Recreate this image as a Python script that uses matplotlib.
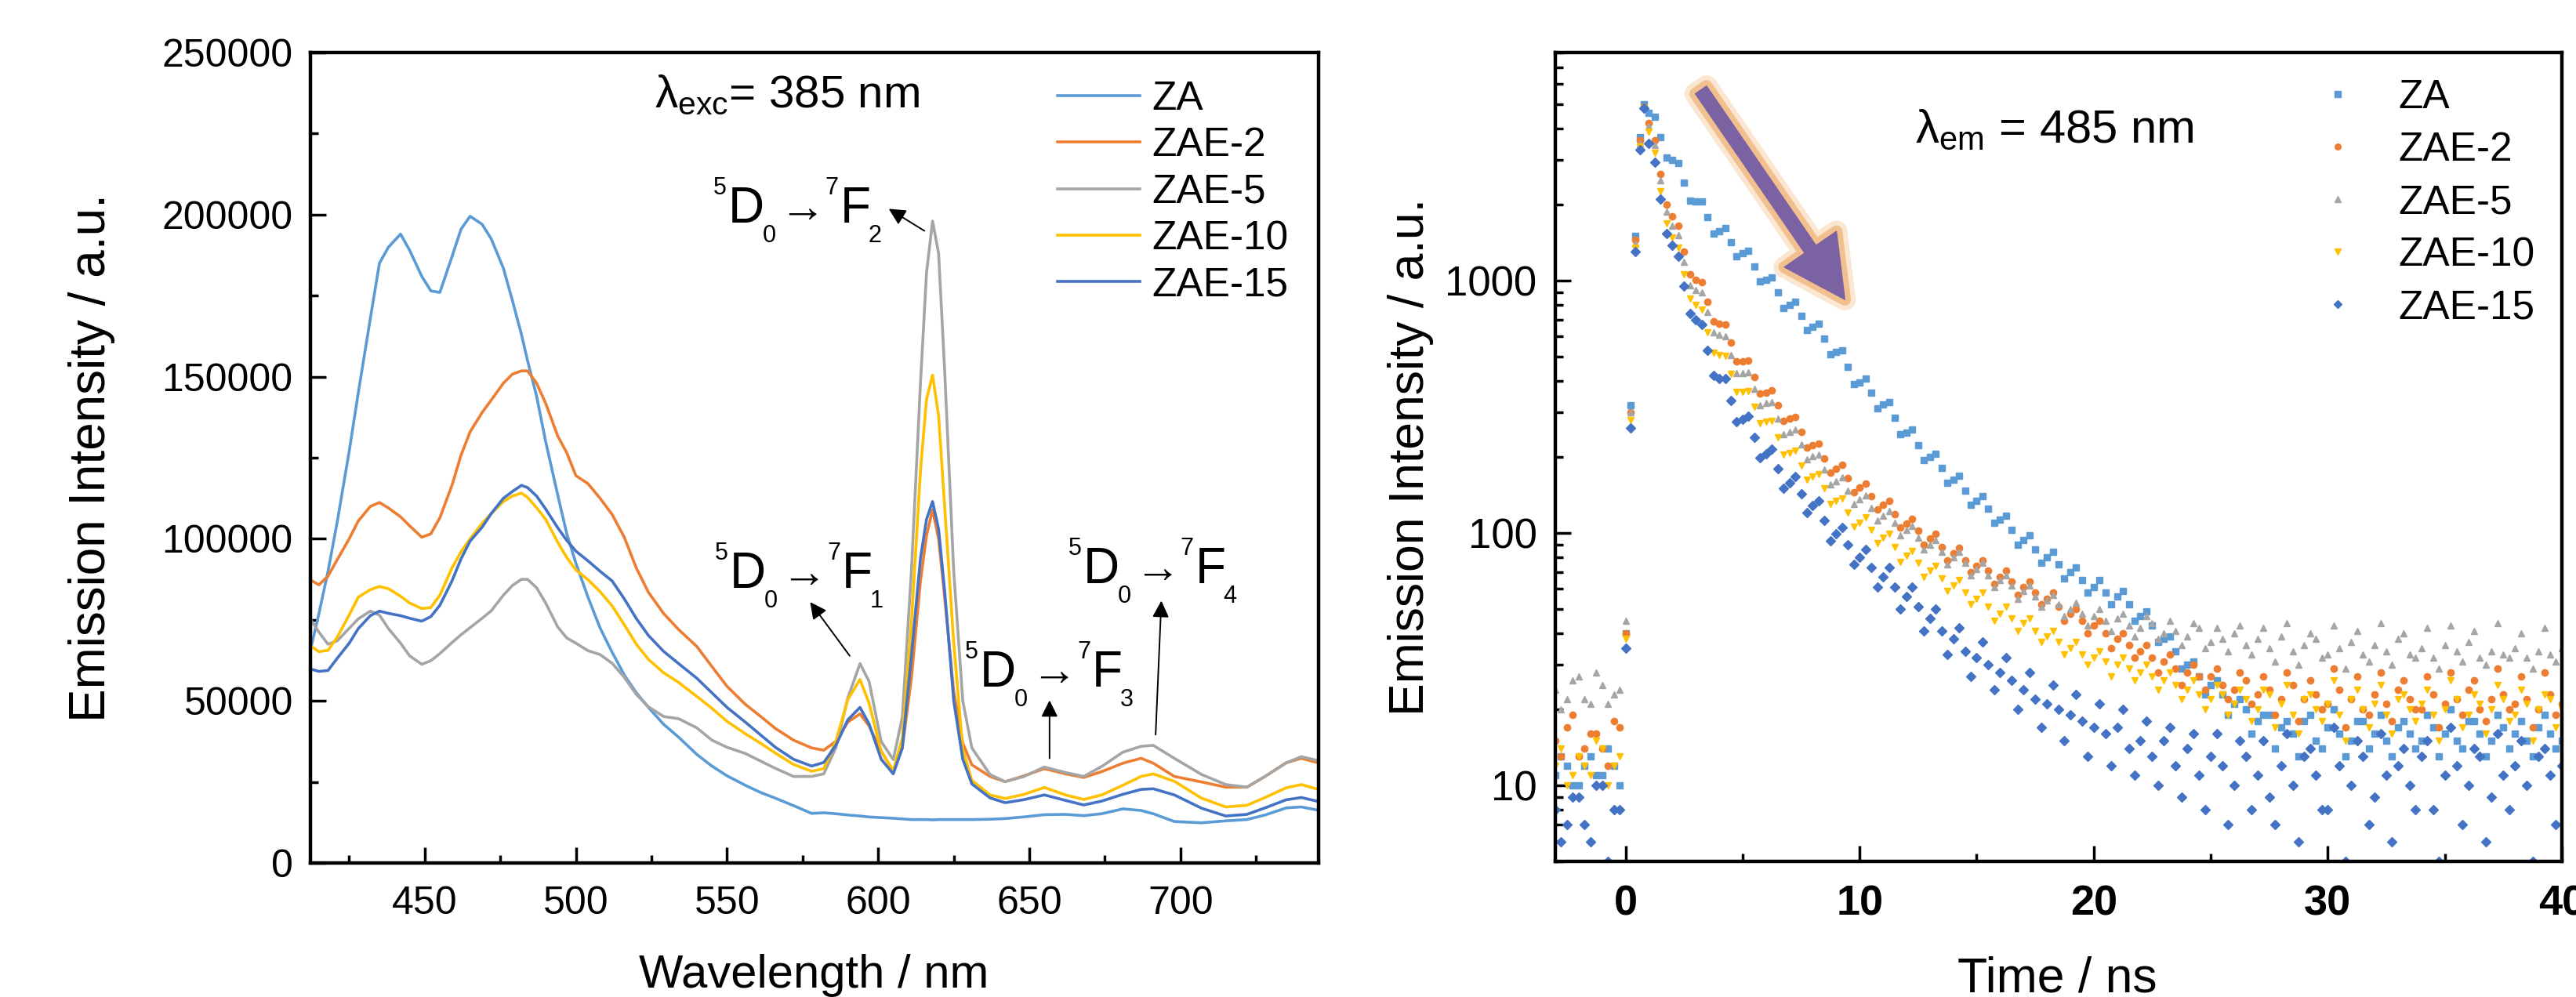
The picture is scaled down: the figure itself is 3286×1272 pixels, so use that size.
import matplotlib
matplotlib.use('Agg')
import matplotlib.pyplot as plt
import numpy as np
from matplotlib.ticker import MultipleLocator, NullFormatter
from matplotlib.patches import FancyArrowPatch
import matplotlib.patheffects as pe

plt.rcParams['font.family'] = ['Liberation Sans', 'DejaVu Sans']
plt.rcParams['mathtext.fontset'] = 'custom'
plt.rcParams['mathtext.rm'] = 'Liberation Sans'
plt.rcParams['mathtext.it'] = 'Liberation Sans:italic'
plt.rcParams['mathtext.bf'] = 'Liberation Sans:bold'

# ---------------- data: emission spectra (left) ----------------
names = ['ZA', 'ZAE-2', 'ZAE-5', 'ZAE-10', 'ZAE-15']
colors = ['#5B9BD5', '#ED7D31', '#A5A5A5', '#FFC000', '#4472C4']

wavelength = [412, 415, 418, 421, 425, 428, 432, 435, 438, 442, 445, 449, 452, 455, 459,
              462, 465, 469, 472, 476, 479, 482, 484, 487, 490, 494, 497, 500, 504, 508,
              512, 516, 520, 524, 529, 534, 540, 545, 550, 556, 561, 566, 572, 578, 582,
              586, 590, 594, 597, 601, 605, 608, 611, 614, 616, 618, 620, 622, 625, 628,
              631, 637, 642, 648, 655, 662, 668, 674, 681, 687, 691, 698, 707, 715, 722,
              728, 735, 740, 746]

em_za = [65000, 77000, 90000, 105000, 127000, 145000, 168000, 185000, 190000, 194000,
         189000, 181000, 176500, 176000, 187000, 195500, 199500, 197000, 192500, 183500,
         173500, 163000, 155000, 144000, 130000, 113500, 101500, 92500, 82000, 72500,
         65000, 58000, 52500, 48000, 42800, 38800, 33500, 29900, 26900, 24000,
         21800, 20000, 17700, 15300, 15500, 15200, 14800, 14500, 14200, 14000,
         13800, 13600, 13400, 13400, 13400, 13300, 13400, 13400, 13400, 13400,
         13400, 13500, 13700, 14200, 14900, 15000, 14600, 15200, 16700, 16200,
         15200, 12800, 12400, 13000, 13400, 14800, 17000, 17300, 16200]
em_zae2 = [87400, 85800, 88500, 93500, 100000, 105500, 110000, 111200, 109500, 106800,
           104000, 100500, 101500, 106500, 116500, 125800, 133000, 139000, 142800, 148000,
           150800, 151800, 151800, 148000, 141800, 131700, 126500, 119500, 117000, 112500,
           107500, 100500, 91000, 83500, 77000, 72000, 66800, 60600, 54500, 49000,
           45300, 41500, 37900, 35500, 34800, 37500, 43500, 46000, 42300, 34500,
           28300, 35500, 57000, 87000, 101000, 109000, 100000, 82000, 53000, 37000,
           30300, 26700, 25100, 26800, 29100, 27500, 26400, 28200, 30800, 32300,
           30800, 26700, 25000, 23400, 23400, 26700, 30900, 32300, 30800]
em_zae5 = [75500, 71200, 67500, 68500, 72400, 75300, 77700, 76500, 72300, 67800,
           63900, 61300, 62400, 64600, 68000, 70400, 72600, 75500, 77800, 82600,
           85600, 87500, 87500, 84900, 80200, 72800, 69400, 67800, 65500, 64300,
           61600, 57300, 52000, 48200, 45200, 44500, 41700, 37900, 35700, 33800,
           31500, 29200, 26700, 26700, 27500, 35500, 51000, 61500, 56000, 37500,
           31900, 45000, 90000, 148000, 182000, 198000, 188000, 152000, 90000, 50000,
           35500, 27300, 25100, 26600, 29600, 27900, 26700, 29800, 34200, 36000,
           36300, 32300, 27300, 24200, 23400, 26700, 30900, 32800, 31500]
em_zae10 = [67100, 65200, 65600, 69600, 76500, 82000, 84300, 85300, 84600, 82300,
            80200, 78500, 78800, 82600, 91000, 96000, 100000, 104800, 107800, 111500,
            113200, 114100, 112800, 109600, 106000, 98900, 94200, 90400, 87400, 83700,
            79300, 73500, 67500, 62800, 58700, 55700, 51400, 47700, 43700, 39900,
            37000, 33900, 30400, 28300, 29100, 37500, 50500, 56600, 49300, 34500,
            28500, 38500, 74000, 121000, 143000, 150500, 138000, 110000, 68000, 35000,
            25500, 21000, 19900, 21100, 23300, 21000, 19600, 21000, 24000, 26700,
            27500, 25200, 20000, 17300, 17800, 20200, 23200, 24200, 22600]
em_zae15 = [59900, 59100, 59400, 63100, 67800, 72300, 76300, 77700, 77000, 76300,
            75500, 74600, 76000, 79500, 87000, 93800, 99300, 103600, 107800, 112500,
            114600, 116500, 115800, 113200, 109200, 103400, 99500, 96200, 93200, 90000,
            87000, 81500, 75400, 70200, 65300, 61500, 57000, 52500, 48000, 43500,
            39600, 35700, 32000, 29900, 31000, 36300, 44200, 48000, 42900, 32000,
            27500, 35500, 64000, 94000, 106000, 111500, 103000, 84000, 50000, 32000,
            24400, 20100, 18600, 19500, 21000, 19300, 17900, 19100, 21200, 22700,
            22900, 21000, 16900, 14500, 15000, 17000, 19500, 20200, 18900]

# ---------------- data: decay curves (right) ----------------
# main readings (cloud centre) and in-between readings (upper / lower side of the cloud)
time_ns = np.concatenate([np.arange(-3.0, 0.01, 0.5), [0.2, 0.4, 0.6, 0.8],
                          np.arange(1.0, 20.01, 0.5), np.arange(20.5, 40.01, 0.5)])
time_mid = np.concatenate([[-2.75, -2.25, -1.75, -1.25, -0.75, -0.25],
                           np.arange(1.25, 39.76, 0.5)])

dec_za = [11, 12, 10, 13, 11, 12, 40,
          320, 1500, 3700, 5000,
          4600, 3700, 3000, 2450, 2050, 1780, 1570, 1420, 1280, 1140, 1010, 895, 800,
          725, 655, 590, 520, 455, 395, 360, 322, 287, 250, 222, 200, 181, 163, 147,
          134, 125, 113, 103, 94, 86, 80, 75, 70, 65, 61,
          58, 56, 52, 47, 43, 38, 34, 30, 27, 25, 23, 21, 20, 18, 19, 17, 16, 18, 15, 17,
          16, 15, 18, 16, 15, 17, 16, 15, 17, 16, 15, 18, 16, 15, 17, 16, 15, 17, 16, 15]
dec_zae2 = [15, 17, 13, 16, 14, 18, 40,
            300, 1450, 3600, 4900,
            4200, 2650, 1800, 1300, 1010, 825, 675, 568, 480, 415, 360, 320, 283, 252,
            222, 197, 180, 165, 151, 140, 129, 119, 109, 102, 95, 88, 83, 78, 74, 71,
            67, 64, 61, 58, 55, 51, 48, 45, 43,
            40, 38, 36, 34, 32, 31, 29, 28, 27, 27, 25, 24, 26, 23, 24, 22, 25, 22, 23, 21,
            24, 22, 20, 23, 21, 24, 22, 20, 23, 21, 22, 24, 20, 22, 23, 21, 22, 20, 23, 21]
dec_zae5 = [24, 22, 27, 21, 25, 23, 45,
            300, 1400, 3500, 4900,
            4100, 2500, 1650, 1190, 920, 750, 610, 505, 430, 372, 327, 284, 251, 224,
            202, 179, 160, 147, 136, 126, 117, 110, 103, 96, 90, 84, 80, 76, 72, 68,
            65, 62, 59, 56, 54, 52, 50, 48, 47,
            45, 46, 43, 42, 44, 40, 41, 39, 42, 37, 38, 40, 36, 38, 35, 39, 34, 36, 38, 33,
            35, 37, 33, 36, 34, 38, 33, 35, 32, 36, 34, 37, 32, 34, 33, 35, 32, 34, 33, 35]
dec_zae10 = [12, 10, 13, 11, 14, 12, 38,
             280, 1350, 3400, 4800,
             3900, 2250, 1480, 1060, 800, 625, 505, 428, 362, 316, 276, 240, 208, 185,
             167, 150, 134, 120, 110, 103, 96, 88, 81, 76, 71, 66, 62, 58, 55, 51,
             48, 46, 44, 41, 39, 37, 35, 33, 32,
             31, 30, 29, 28, 27, 26, 25, 24, 23, 22, 23, 21, 22, 20, 23, 21, 19, 22, 20, 21,
             19, 22, 20, 21, 19, 22, 20, 21, 19, 20, 22, 19, 21, 20, 22, 19, 21, 20, 22, 20]
dec_zae15 = [8, 7, 9, 6, 10, 8, 35,
             260, 1300, 3300, 4800,
             3500, 2100, 1380, 950, 700, 530, 410, 335, 282, 240, 206, 180, 158, 143,
             128, 112, 99, 90, 80, 73, 67, 61, 56, 51, 46, 41, 38, 34, 32, 30,
             28, 26, 24, 22, 21, 20, 19, 18, 17,
             16, 17, 14, 15, 13, 15, 12, 14, 11, 13, 12, 10, 13, 11, 9, 12, 10, 13, 11, 8,
             12, 10, 13, 9, 11, 12, 10, 13, 8, 11, 12, 10, 13, 9, 11, 12, 10, 13, 11, 12]

mid_za = [13, 10, 12, 11, 14, 10,
          4450, 3080, 2930, 2070, 2060, 1540, 1610, 1250, 1310, 990,
          1030, 780, 825, 635, 675, 510, 530, 390, 410, 312,
          330, 246, 256, 194, 206, 158, 168, 129, 140, 110,
          117, 90, 98, 76, 84, 66, 73, 58, 65, 52,
          59, 45, 49, 37, 39, 29, 31, 23, 26, 19, 22, 16,
          19, 14, 18, 13, 19, 14, 20, 13, 18, 14, 19, 13, 18, 14, 19, 13, 20, 14, 18, 13,
          19, 14, 18, 13, 19, 14]
mid_zae2 = [13, 19, 14, 16, 12, 17,
            3600, 2000, 1650, 1060, 985, 690, 670, 480, 482, 356,
            366, 277, 288, 218, 226, 173, 186, 145, 157, 124,
            134, 105, 114, 90, 99, 78, 87, 70, 78, 63,
            71, 57, 64, 52, 58, 45, 50, 40, 45, 35,
            40, 32, 36, 28, 33, 25, 30, 24, 29, 22, 28, 21,
            27, 19, 28, 18, 26, 20, 29, 17, 27, 19, 28, 18, 26, 20, 27, 17, 28, 19, 26, 18,
            29, 20, 27, 17, 28, 19]
mid_zae5 = [20, 26, 22, 28, 21, 24,
            3450, 1870, 1510, 960, 900, 622, 600, 430, 432, 321,
            329, 246, 256, 196, 205, 156, 166, 130, 141, 112,
            122, 98, 107, 86, 94, 75, 84, 68, 76, 61,
            68, 55, 62, 51, 57, 47, 53, 43, 50, 41,
            48, 39, 47, 38, 45, 36, 44, 35, 42, 34, 43, 33,
            42, 31, 44, 30, 40, 32, 43, 29, 41, 31, 44, 30, 40, 32, 42, 29, 43, 31, 41, 30,
            44, 32, 40, 29, 42, 31]
mid_zae10 = [14, 11, 12, 15, 10, 13,
             3200, 1680, 1350, 850, 765, 517, 502, 362, 365, 272,
             278, 205, 212, 162, 171, 130, 137, 106, 115, 91,
             99, 77, 85, 67, 74, 59, 65, 52, 58, 45,
             51, 41, 46, 37, 41, 33, 37, 30, 34, 27,
             32, 26, 30, 24, 28, 22, 26, 20, 25, 19, 24, 18,
             24, 17, 25, 16, 23, 18, 26, 15, 24, 17, 25, 16, 23, 18, 24, 15, 26, 17, 23, 16,
             25, 18, 24, 15, 23, 17]
mid_zae15 = [6, 9, 7, 10, 5, 8,
             2950, 1540, 1250, 740, 670, 420, 410, 275, 290, 198,
             215, 150, 167, 120, 134, 93, 105, 75, 86, 61,
             73, 50, 61, 41, 50, 33, 42, 27, 37, 24,
             32, 20, 28, 17, 25, 15, 23, 13, 21, 12,
             20, 11, 18, 10, 17, 9, 16, 8, 16, 7, 15, 8,
             15, 7, 16, 6, 14, 8, 17, 5, 15, 7, 16, 6, 14, 8, 15, 5, 17, 7, 14, 6,
             16, 8, 15, 5, 14, 7]

markers = ['s', 'o', '^', 'v', 'D']

# transition labels 5D0 -> 7FJ : J, text anchor, arrow tail, arrow head
trans_j = ['2', '1', '3', '4']
trans_text_xy = [(545.4, 197500), (546, 84900), (628.8, 54500), (662.9, 86300)]
trans_tail_xy = [(615.3, 195000), (590.6, 63900), (656.7, 32300), (691.8, 39600)]
trans_head_xy = [(603.5, 201800), (577.5, 80500), (656.7, 50200), (693.7, 80900)]


def draw_transition(ax, x, y, j):
    # (text, x offset px, baseline shift pt, size pt)
    pieces = [('5', 0, 26, 22), ('D', 19, 0, 46), ('0', 63, -18, 22),
              ('→', 84, 1, 42), ('7', 143, 26, 22), ('F', 162, 0, 46), (j, 198, -18, 22)]
    for s, px, dy, fs in pieces:
        ax.annotate(s, xy=(x, y), xytext=(px * 0.72, dy), textcoords='offset points',
                    fontsize=fs, ha='left', va='baseline')


# ---------------- figure ----------------
fig = plt.figure(figsize=(32.87, 12.72), dpi=100)
ax1 = fig.add_axes([0.1205, 0.1344, 0.3912, 0.8129])
ax2 = fig.add_axes([0.6036, 0.1360, 0.3906, 0.8113])

for ax in (ax1, ax2):
    for s in ax.spines.values():
        s.set_linewidth(3.2)

# left panel
spectra = [em_za, em_zae2, em_zae5, em_zae10, em_zae15]
for name, vals, c in zip(names, spectra, colors):
    ax1.plot(wavelength, vals, color=c, lw=2.6, label=name)

ax1.set_xlim(412.2, 745.7)
ax1.set_ylim(0, 250000)
ax1.xaxis.set_major_locator(MultipleLocator(50))
ax1.xaxis.set_minor_locator(MultipleLocator(25))
ax1.yaxis.set_major_locator(MultipleLocator(50000))
ax1.yaxis.set_minor_locator(MultipleLocator(25000))
ax1.tick_params(which='both', direction='in', top=False, right=False, width=2.5)
ax1.tick_params(which='major', length=14.5, labelsize=36)
ax1.tick_params(which='minor', length=7.5)
ax1.tick_params(axis='x', which='major', pad=21)
ax1.tick_params(axis='y', which='major', pad=16)

ax1.set_xlabel('Wavelength / nm', fontsize=43)
ax1.set_ylabel('Emission Intensity / a.u.', fontsize=46)
ax1.xaxis.set_label_coords(0.499, -0.112)
ax1.yaxis.set_label_coords(-0.194, 0.5)

ax1.legend(loc='upper left', bbox_to_anchor=(0.741, 0.966), frameon=False, fontsize=37,
           handlelength=2.05, handletextpad=0.3, labelspacing=0.2, borderpad=0,
           borderaxespad=0)

ax1.text(526, 233000, 'λ$_{\\mathrm{exc}}$= 385 nm', fontsize=42, ha='left', va='baseline')

for j, txy, a, b in zip(trans_j, trans_text_xy, trans_tail_xy, trans_head_xy):
    draw_transition(ax1, txy[0], txy[1], j)
    ax1.annotate('', xy=b, xytext=a,
                 arrowprops=dict(arrowstyle='-|>', color='black', lw=1.4,
                                 mutation_scale=32, shrinkA=0, shrinkB=0))

# right panel
decays = [dec_za, dec_zae2, dec_zae5, dec_zae10, dec_zae15]
mids = [mid_za, mid_zae2, mid_zae5, mid_zae10, mid_zae15]
for name, vals, mvals, c, m in zip(names, decays, mids, colors, markers):
    ax2.plot(time_ns, vals, linestyle='none', marker=m, ms=6, color=c, mec=c,
             label=name)
    ax2.plot(time_mid, mvals, linestyle='none', marker=m, ms=6, color=c, mec=c)

ax2.set_yscale('log')
ax2.set_xlim(-3, 40)
ax2.set_ylim(5, 8000)
ax2.set_xticks([0, 10, 20, 30, 40])
ax2.set_xticklabels(['0', '10', '20', '30', '40'], fontweight='bold')
ax2.xaxis.set_minor_locator(MultipleLocator(5))
ax2.set_yticks([10, 100, 1000])
ax2.set_yticklabels(['10', '100', '1000'])
ax2.yaxis.set_minor_formatter(NullFormatter())
ax2.tick_params(which='both', direction='in', top=False, right=False, width=2.5)
ax2.tick_params(which='major', length=14.5)
ax2.tick_params(which='minor', length=7.5)
ax2.tick_params(axis='x', which='major', labelsize=39, pad=21)
ax2.tick_params(axis='y', which='major', labelsize=38, pad=17)

ax2.set_xlabel('Time / ns', fontsize=45)
ax2.set_ylabel('Emission Intensity / a.u.', fontsize=45)
ax2.xaxis.set_label_coords(0.499, -0.117)
ax2.yaxis.set_label_coords(-0.121, 0.5)

ax2.legend(loc='upper left', bbox_to_anchor=(0.7375, 0.968), frameon=False, fontsize=37,
           handlelength=2.0, handletextpad=0.5, labelspacing=0.35, borderpad=0,
           borderaxespad=0, numpoints=1, markerscale=0.9)

ax2.text(12.38, 3530, 'λ$_{\\mathrm{em}}$ = 485 nm', fontsize=43, ha='left', va='baseline')

arrow = FancyArrowPatch((3.22, 5690), (9.37, 841),
                        arrowstyle='simple,head_length=5.6,head_width=5.8,tail_width=1.25',
                        mutation_scale=10, color='#7B62A3', shrinkA=0, shrinkB=0, zorder=5)
arrow.set_path_effects([pe.Stroke(linewidth=20, foreground='#FBE6D2'),
                        pe.Stroke(linewidth=11, foreground='#F2C08E'),
                        pe.Normal()])
ax2.add_patch(arrow)

fig.savefig('out.png', dpi=100)
